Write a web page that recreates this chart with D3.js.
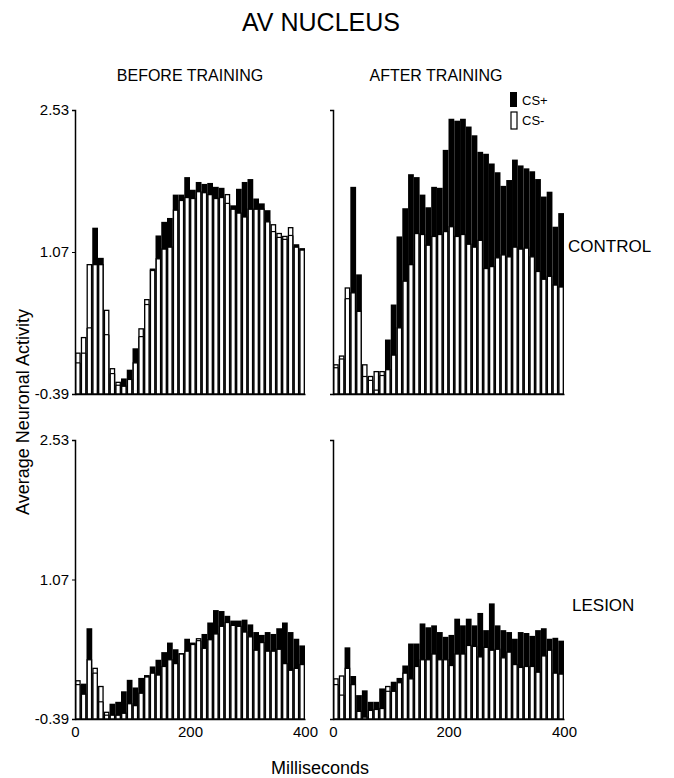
<!DOCTYPE html>
<html>
<head>
<meta charset="utf-8">
<script src="https://cdn.jsdelivr.net/npm/d3@7"></script>
<style>
  body { margin: 0; background: #fff; }
  svg { display: block; font-family: "Liberation Sans", Arial, Helvetica, sans-serif; }
</style>
</head>
<body>
<svg id="chart" width="674" height="778"></svg>
<script>
// Peri-stimulus histogram bins (start of each 10 ms bin)
const binStartMs = [0, 10, 20, 30, 40, 50, 60, 70, 80, 90,
  100, 110, 120, 130, 140, 150, 160, 170, 180, 190,
  200, 210, 220, 230, 240, 250, 260, 270, 280, 290,
  300, 310, 320, 330, 340, 350, 360, 370, 380, 390];
const binWidthMs = 10;

const yTickValues = [-0.39, 1.07, 2.53];
const xTickValues = [0, 200, 400];

const columnTitles = ["BEFORE TRAINING", "AFTER TRAINING"];
const rowTitles = ["CONTROL", "LESION"];
const seriesNames = ["CS+", "CS-"];

// Control group, before training
const beforeControlCSplus = [-0.07, 0.03, 0.29, 1.32, 1.01, 0.22, -0.18, -0.30, -0.23, -0.14,
  0.08, 0.20, 0.53, 0.90, 1.24, 1.38, 1.42, 1.66, 1.66, 1.84,
  1.71, 1.79, 1.77, 1.78, 1.74, 1.73, 1.57, 1.55, 1.72, 1.79,
  1.82, 1.62, 1.57, 1.50, 1.28, 1.22, 1.20, 1.24, 1.15, 1.11];
const beforeControlCSminus = [0.03, 0.19, 0.94, 0.94, 0.94, 0.47, -0.13, -0.27, -0.31, -0.24,
  -0.07, 0.28, 0.58, 0.88, 1.00, 1.10, 1.12, 1.50, 1.60, 1.63,
  1.62, 1.69, 1.68, 1.66, 1.62, 1.63, 1.66, 1.51, 1.47, 1.43,
  1.51, 1.51, 1.51, 1.38, 1.35, 1.26, 1.23, 1.32, 1.12, 1.09];

// Control group, after training
const afterControlCSplus = [-0.12, -0.03, 0.59, 1.74, 0.84, -0.21, -0.25, -0.35, -0.20, 0.17,
  0.53, 1.23, 1.52, 1.87, 1.84, 1.66, 1.53, 1.74, 1.73, 2.12,
  2.44, 2.42, 2.44, 2.36, 2.27, 2.10, 2.08, 1.98, 1.89, 1.75,
  1.81, 2.02, 1.96, 1.93, 1.90, 1.82, 1.64, 1.69, 1.33, 1.47];
const afterControlCSminus = [-0.09, 0.00, 0.70, 0.65, 0.46, -0.09, -0.21, -0.16, -0.16, -0.14,
  0.01, 0.29, 0.77, 0.94, 1.26, 1.25, 1.14, 1.23, 1.25, 1.28,
  1.33, 1.23, 1.25, 1.15, 1.12, 1.19, 0.90, 0.92, 1.01, 1.04,
  1.02, 1.12, 1.10, 1.11, 1.02, 0.87, 0.79, 0.82, 0.73, 0.71];

// Lesion group, before training
const beforeLesionCSplus = [-0.03, -0.02, 0.56, 0.09, -0.21, -0.35, -0.23, -0.21, -0.10, 0.02,
  -0.06, 0.04, 0.07, 0.16, 0.23, 0.31, 0.41, 0.34, 0.30, 0.45,
  0.41, 0.43, 0.50, 0.62, 0.75, 0.74, 0.69, 0.64, 0.64, 0.65,
  0.60, 0.52, 0.49, 0.52, 0.50, 0.56, 0.62, 0.52, 0.45, 0.38];
const beforeLesionCSminus = [0.01, -0.13, 0.23, 0.14, -0.05, -0.32, -0.35, -0.35, -0.33, -0.23,
  -0.25, -0.12, 0.05, 0.09, 0.07, 0.16, 0.23, 0.19, 0.29, 0.32,
  0.39, 0.45, 0.35, 0.44, 0.50, 0.58, 0.62, 0.59, 0.58, 0.52,
  0.47, 0.33, 0.41, 0.32, 0.32, 0.34, 0.19, 0.12, 0.14, 0.18];

// Lesion group, after training
const afterLesionCSplus = [-0.03, -0.14, 0.36, 0.06, -0.14, -0.09, -0.21, -0.21, -0.07, -0.10,
  0.00, 0.04, 0.17, 0.40, 0.40, 0.61, 0.57, 0.59, 0.52, 0.47,
  0.49, 0.66, 0.59, 0.66, 0.59, 0.72, 0.54, 0.82, 0.59, 0.54,
  0.52, 0.45, 0.52, 0.51, 0.48, 0.54, 0.56, 0.45, 0.46, 0.43];
const afterLesionCSminus = [0.03, 0.06, 0.14, -0.03, -0.31, -0.37, -0.30, -0.29, -0.28, -0.05,
  -0.10, -0.01, 0.09, 0.03, 0.16, 0.23, 0.23, 0.29, 0.23, 0.23,
  0.17, 0.29, 0.29, 0.38, 0.37, 0.26, 0.36, 0.33, 0.34, 0.25,
  0.31, 0.18, 0.15, 0.16, 0.16, 0.10, 0.27, 0.33, 0.09, 0.08];

const panels = [
  { row: 0, col: 0, plus: beforeControlCSplus, minus: beforeControlCSminus },
  { row: 0, col: 1, plus: afterControlCSplus,  minus: afterControlCSminus },
  { row: 1, col: 0, plus: beforeLesionCSplus,  minus: beforeLesionCSminus },
  { row: 1, col: 1, plus: afterLesionCSplus,   minus: afterLesionCSminus }
];

// Layout (pixels)
const colRange = [[75, 305], [333, 564]];
const rowRange = [[394, 110], [719, 440]];
const FONT = '"Liberation Sans", Arial, Helvetica, sans-serif';

const svg = d3.select("#chart");
const fmt = d => d.toFixed(2);

panels.forEach(p => {
  const x = d3.scaleLinear().domain([0, 400]).range(colRange[p.col]);
  const y = d3.scaleLinear().domain([yTickValues[0], yTickValues[2]]).range(rowRange[p.row]);
  const base = y(yTickValues[0]);
  const rows = binStartMs.map((t, i) => ({ t, plus: p.plus[i], minus: p.minus[i] }));
  const g = svg.append("g");

  // CS+ : solid black bars
  g.selectAll("rect.plus").data(rows).join("rect")
    .attr("class", "plus")
    .attr("x", d => x(d.t))
    .attr("width", d => x(d.t + binWidthMs) - x(d.t))
    .attr("y", d => y(d.plus))
    .attr("height", d => base - y(d.plus))
    .attr("fill", "#000");

  // CS- : open bars drawn in front
  g.selectAll("rect.minus").data(rows).join("rect")
    .attr("class", "minus")
    .attr("x", d => x(d.t) + 0.7)
    .attr("width", d => x(d.t + binWidthMs) - x(d.t) - 1.4)
    .attr("y", d => y(d.minus))
    .attr("height", d => base - y(d.minus))
    .attr("fill", "#fff")
    .attr("stroke", "#000")
    .attr("stroke-width", 1.3);

  // CS+ outline, visible where it sits inside a taller CS- bar
  g.selectAll("line.plusTop").data(rows.filter(d => d.plus < d.minus)).join("line")
    .attr("class", "plusTop")
    .attr("x1", d => x(d.t) + 0.7)
    .attr("x2", d => x(d.t + binWidthMs) - 0.7)
    .attr("y1", d => y(d.plus))
    .attr("y2", d => y(d.plus))
    .attr("stroke", "#000")
    .attr("stroke-width", 1.2);

  // Baseline / x axis
  const xAxis = d3.axisBottom(x).tickSize(0).tickSizeOuter(0).tickPadding(7)
    .tickValues(p.row === 1 ? xTickValues : []).tickFormat(d3.format("d"));
  const gx = g.append("g").attr("transform", `translate(0,${base})`).call(xAxis);
  gx.select(".domain").attr("stroke-width", 1.3);
  gx.selectAll("text").attr("font-size", 15).attr("font-family", FONT).attr("fill", "#000");

  // Y axis: labelled on the left column only
  const yAxis = d3.axisLeft(y).tickSizeOuter(0).tickSize(3).tickPadding(3)
    .tickValues(p.col === 0 ? yTickValues : []).tickFormat(fmt);
  const gy = g.append("g").attr("transform", `translate(${colRange[p.col][0]},0)`).call(yAxis);
  gy.select(".domain").attr("stroke-width", 1.5);
  gy.selectAll("text").attr("font-size", 15).attr("font-family", FONT).attr("fill", "#000");
});

// Titles
svg.append("text").attr("x", 321).attr("y", 31).attr("text-anchor", "middle")
  .attr("font-size", 25).text("AV NUCLEUS");
svg.selectAll("text.colTitle").data(columnTitles).join("text")
  .attr("class", "colTitle")
  .attr("x", (d, i) => [190, 436][i]).attr("y", 81)
  .attr("text-anchor", "middle").attr("font-size", 16).text(d => d);
svg.selectAll("text.rowTitle").data(rowTitles).join("text")
  .attr("class", "rowTitle")
  .attr("x", (d, i) => [568, 572][i]).attr("y", (d, i) => [252, 611][i])
  .attr("font-size", 17).text(d => d);

// Legend
const legend = svg.append("g").attr("transform", "translate(510,92)");
legend.append("rect").attr("x", 0).attr("y", 0).attr("width", 7).attr("height", 15).attr("fill", "#000");
legend.append("rect").attr("x", 1).attr("y", 20).attr("width", 6).attr("height", 17)
  .attr("fill", "#fff").attr("stroke", "#000").attr("stroke-width", 1.2);
legend.selectAll("text").data(seriesNames).join("text")
  .attr("x", 12).attr("y", (d, i) => [13, 33][i])
  .attr("font-size", 13).text(d => d);

// Axis titles
svg.append("text").attr("transform", "translate(29,412) rotate(-90)")
  .attr("text-anchor", "middle").attr("font-size", 18).text("Average Neuronal Activity");
svg.append("text").attr("x", 320).attr("y", 774).attr("text-anchor", "middle")
  .attr("font-size", 18).text("Milliseconds");
</script>
</body>
</html>
